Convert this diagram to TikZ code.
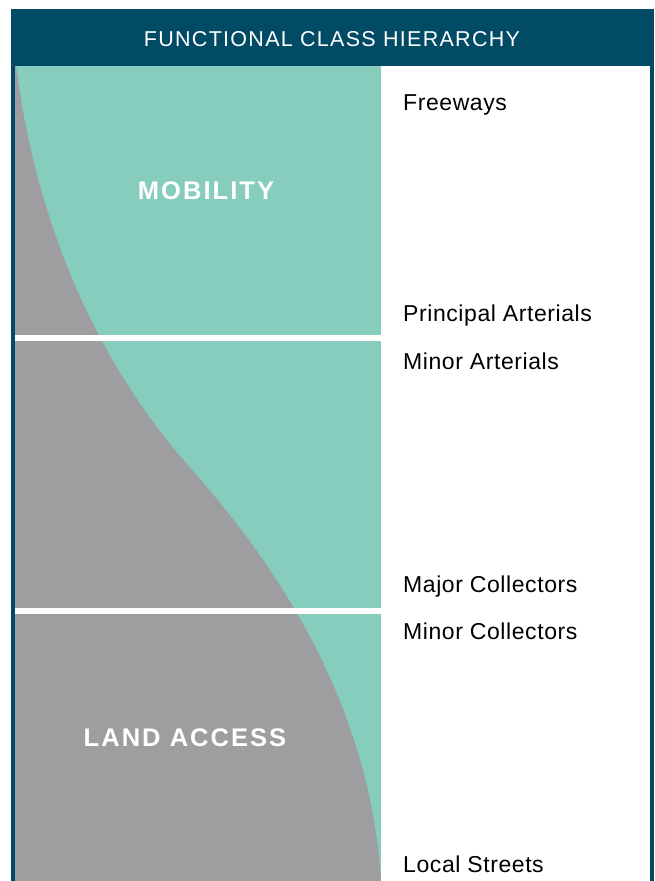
\documentclass[tikz,border=0pt]{standalone}
\usepackage{fontspec}
\setmainfont{Liberation Sans}
\newfontfamily\lblfont[LetterSpace=2.5]{Liberation Sans}
\newfontfamily\hdrfont[LetterSpace=6]{Liberation Sans}
\newfontfamily\bigfont[LetterSpace=8]{Liberation Sans Bold}
\definecolor{frame}{HTML}{024B65}
\definecolor{mob}{HTML}{86CDBD}
\definecolor{land}{HTML}{9E9EA0}
\begin{document}
\begin{tikzpicture}[x=1pt,y=-1pt,
  lbl/.style={anchor=base west,inner sep=0pt,font=\fontsize{23}{26}\lblfont,text=black},
  zone/.style={anchor=base,inner sep=0pt,font=\fontsize{25.5}{28}\bigfont,text=white},
  hdr/.style={anchor=base,inner sep=0pt,font=\fontsize{21.5}{24}\hdrfont,text=white},
  sep/.style={fill=white,draw=none}]
\useasboundingbox (0,0) rectangle (654,881);
\fill[white] (0,0) rectangle (654,881);
% frame
\fill[frame] (11,9) rectangle (654,66);
\fill[frame] (11,66) rectangle (15,881);
\fill[frame] (650,66) rectangle (654,881);
% chart
\fill[mob] (15,66) rectangle (381,881);
\fill[land] (15,66) -- (16,66) .. controls (40,250) and (112,380) .. (192,470)
   .. controls (272,560) and (370,700) .. (381,881) -- (15,881) -- cycle;
\fill[sep] (15,335) rectangle (381,341);
\fill[sep] (15,608) rectangle (381,614);
% texts
\node[hdr] (title) at (332,46) {FUNCTIONAL CLASS HIERARCHY};
\node[zone] (mobility) at (206,199) {MOBILITY};
\node[zone] (landaccess) at (185,746) {LAND ACCESS};
\node[lbl] (freeways) at (403,110) {Freeways};
\node[lbl] (principal) at (403,321) {Principal Arterials};
\node[lbl] (minorart) at (403,369) {Minor Arterials};
\node[lbl] (majorcol) at (403,592) {Major Collectors};
\node[lbl] (minorcol) at (403,639) {Minor Collectors};
\node[lbl] (local) at (403,872) {Local Streets};
\end{tikzpicture}
\end{document}
